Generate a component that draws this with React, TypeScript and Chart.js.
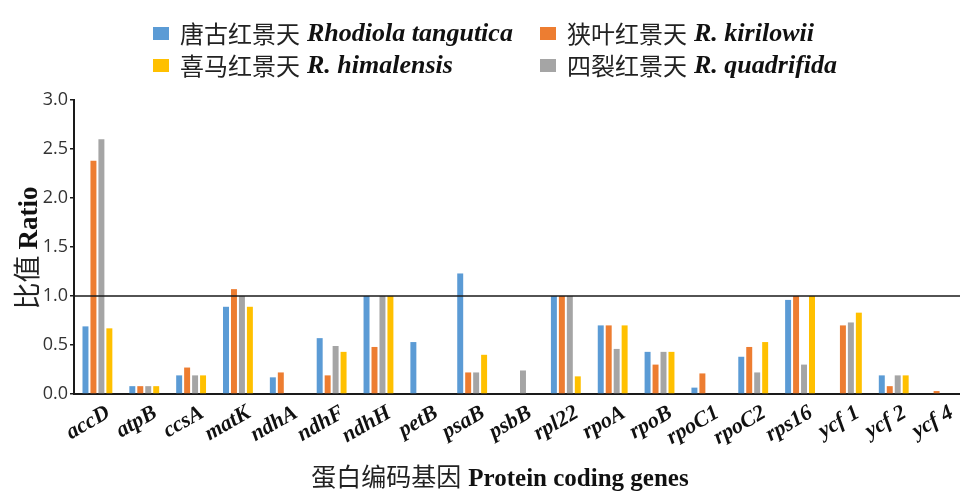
import React, { useEffect, useRef } from 'react';
import { Chart, registerables } from 'chart.js';

Chart.register(...registerables);

const genes = ['accD', 'atpB', 'ccsA', 'matK', 'ndhA', 'ndhF', 'ndhH', 'petB', 'psaB', 'psbB', 'rpl22', 'rpoA', 'rpoB', 'rpoC1', 'rpoC2', 'rps16', 'ycf 1', 'ycf 2', 'ycf 4'];

const tangutica = [0.69, 0.08, 0.19, 0.89, 0.17, 0.57, 1.0, 0.53, 1.23, null, 1.0, 0.7, 0.43, 0.065, 0.38, 0.96, null, 0.19, null];
const kirilowii = [2.38, 0.08, 0.27, 1.07, 0.22, 0.19, 0.48, null, 0.22, null, 1.0, 0.7, 0.3, 0.21, 0.48, 1.0, 0.7, 0.08, 0.03];
const quadrifida = [2.6, 0.08, 0.19, 1.0, null, 0.49, 1.0, null, 0.22, 0.24, 1.0, 0.46, 0.43, null, 0.22, 0.3, 0.73, 0.19, null];
const himalensis = [0.67, 0.08, 0.19, 0.89, null, 0.43, 1.0, null, 0.4, null, 0.18, 0.7, 0.43, null, 0.53, 1.0, 0.83, 0.19, null];

const yMin = 0;
const yMax = 3;
const yStep = 0.5;
const referenceValue = 1.0;

const COLORS = {
  blue: '#5B9BD5',
  orange: '#ED7D31',
  gray: '#A5A5A5',
  yellow: '#FFC000',
};

const legendItems = [
  { zh: '唐古红景天', la: 'Rhodiola tangutica', color: COLORS.blue, col: 0, row: 0 },
  { zh: '狭叶红景天', la: 'R. kirilowii', color: COLORS.orange, col: 1, row: 0 },
  { zh: '喜马红景天', la: 'R. himalensis', color: COLORS.yellow, col: 0, row: 1 },
  { zh: '四裂红景天', la: 'R. quadrifida', color: COLORS.gray, col: 1, row: 1 },
];

const CJK = "'Noto Sans CJK SC', 'Noto Sans', sans-serif";
const SERIF = "'Liberation Serif', 'DejaVu Serif', serif";

const refLinePlugin = {
  id: 'refLine',
  afterDatasetsDraw(chart: any) {
    const { ctx, chartArea, scales } = chart;
    const py = scales.y.getPixelForValue(referenceValue);
    ctx.save();
    ctx.strokeStyle = '#1a1a1a';
    ctx.lineWidth = 1.5;
    ctx.beginPath();
    ctx.moveTo(chartArea.left, py);
    ctx.lineTo(chartArea.right, py);
    ctx.stroke();
    ctx.restore();
  },
};

export default function App() {
  const ref = useRef<HTMLCanvasElement>(null);

  useEffect(() => {
    document.body.style.margin = '0';
    document.body.style.overflow = 'hidden';
    const mk = (label: string, data: (number | null)[], color: string) => ({
      label,
      data,
      backgroundColor: color,
      borderWidth: 0,
      categoryPercentage: 0.68,
      barPercentage: 0.75,
    });
    const chart = new Chart(ref.current as HTMLCanvasElement, {
      type: 'bar',
      data: {
        labels: genes,
        datasets: [
          mk('唐古红景天 Rhodiola tangutica', tangutica, COLORS.blue),
          mk('狭叶红景天 R. kirilowii', kirilowii, COLORS.orange),
          mk('四裂红景天 R. quadrifida', quadrifida, COLORS.gray),
          mk('喜马红景天 R. himalensis', himalensis, COLORS.yellow),
        ],
      },
      options: {
        responsive: false,
        animation: false,
        devicePixelRatio: 1,
        layout: { padding: { top: 100, right: 2, left: 0, bottom: 0 } },
        plugins: {
          legend: { display: false },
          tooltip: { enabled: false },
          title: { display: false },
        },
        scales: {
          x: {
            afterFit: (s: any) => {
              s.height = 102;
            },
            grid: { display: false, drawTicks: false },
            border: { display: true, color: '#1a1a1a', width: 2 },
            ticks: {
              autoSkip: false,
              maxRotation: 30,
              minRotation: 30,
              labelOffset: 11,
              padding: 6,
              color: '#111',
              font: { family: SERIF, size: 22, style: 'italic', weight: 'bold' },
            },
          },
          y: {
            min: yMin,
            max: yMax,
            afterFit: (s: any) => {
              s.width = 74;
            },
            grid: { drawOnChartArea: false, drawTicks: true, tickLength: 4, color: '#1a1a1a', lineWidth: 1.5 },
            border: { display: true, color: '#1a1a1a', width: 2 },
            ticks: {
              stepSize: yStep,
              padding: 2,
              color: '#333',
              font: { family: "'Open Sans', sans-serif", size: 18 },
              callback: (v: any) => Number(v).toFixed(1),
            },
          },
        },
      },
      plugins: [refLinePlugin],
    } as any);
    return () => chart.destroy();
  }, []);

  return (
    <div style={{ position: 'relative', width: 960, height: 496, overflow: 'hidden', background: '#fff' }}>
      <canvas ref={ref} width={966} height={496} style={{ position: 'absolute', left: 0, top: 0, width: 966, height: 496 }} />
      {legendItems.map((it) => (
        <div
          key={it.la}
          style={{
            position: 'absolute',
            left: it.col === 0 ? 153 : 540,
            top: it.row === 0 ? 18 : 50,
            height: 30,
            display: 'flex',
            alignItems: 'center',
            whiteSpace: 'nowrap',
            color: '#111',
          }}
        >
          <span style={{ display: 'inline-block', width: 16, height: 13, background: it.color, marginRight: 11 }} />
          <span style={{ fontFamily: CJK, fontSize: 24, fontWeight: 400, lineHeight: '30px', color: '#222' }}>{it.zh}</span>
          <span style={{ fontFamily: SERIF, fontSize: 26, fontStyle: 'italic', fontWeight: 'bold', marginLeft: 7, lineHeight: '30px' }}>{it.la}</span>
        </div>
      ))}
      <div
        style={{
          position: 'absolute',
          left: 0,
          width: 1000,
          top: 460,
          height: 30,
          lineHeight: '30px',
          textAlign: 'center',
          whiteSpace: 'nowrap',
          color: '#111',
        }}
      >
        <span style={{ fontFamily: CJK, fontSize: 25, fontWeight: 400, color: '#222' }}>蛋白编码基因</span>
        <span style={{ fontFamily: SERIF, fontSize: 25, fontWeight: 'bold', marginLeft: 7 }}>Protein coding genes</span>
      </div>
      <div
        style={{
          position: 'absolute',
          left: 26 - 100,
          top: 248 - 15,
          width: 200,
          height: 30,
          lineHeight: '30px',
          textAlign: 'center',
          whiteSpace: 'nowrap',
          transform: 'rotate(-90deg)',
          transformOrigin: '50% 50%',
          color: '#111',
        }}
      >
        <span style={{ fontFamily: CJK, fontSize: 27, fontWeight: 400, color: '#222' }}>比值</span>
        <span style={{ fontFamily: SERIF, fontSize: 27, fontWeight: 'bold', marginLeft: 6 }}>Ratio</span>
      </div>
    </div>
  );
}
